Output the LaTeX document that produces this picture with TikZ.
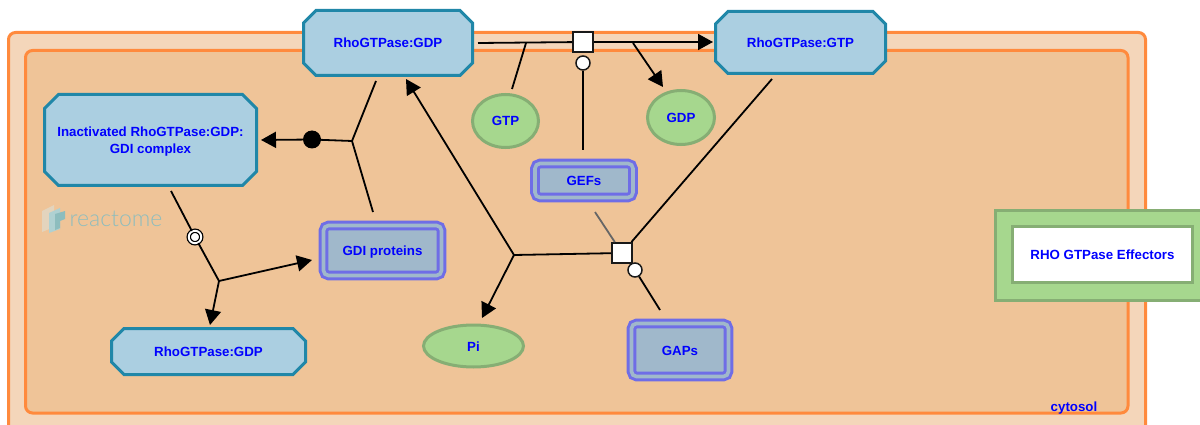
\documentclass[tikz,border=0pt]{standalone}
\usepackage{fontspec}
\setmainfont{Liberation Sans}
\newfontfamily\logofont{Lato Light}
\usepackage{tikz}
\usetikzlibrary{arrows.meta,shapes.geometric,shapes.misc}
\definecolor{cellfill}{HTML}{F4D6BA}
\definecolor{cytofill}{HTML}{EFC498}
\definecolor{orangeline}{HTML}{FF8A3D}
\definecolor{protfill}{HTML}{ABCFE1}
\definecolor{protline}{HTML}{2087A8}
\definecolor{chemfill}{HTML}{A6D78E}
\definecolor{chemline}{HTML}{86AE74}
\definecolor{setfill}{HTML}{A0B8CB}
\definecolor{setline}{HTML}{6F6DE6}
\definecolor{logoteal}{HTML}{8DBDBE}

\begin{document}
\begin{tikzpicture}[x=1pt,y=-1pt]
    \tikzstyle{label}=[text=blue,font=\bfseries\fontsize{13.3}{17}\selectfont,align=center]
    \tikzstyle{oneline}=[text height=11pt,text depth=1pt]
    \tikzstyle{complex}=[label,chamfered rectangle,chamfered rectangle xsep=#1,chamfered rectangle ysep=#1,draw=protline,fill=protfill,line width=3pt,inner sep=0pt]
    \tikzstyle{chem}=[label,oneline,ellipse,draw=chemline,fill=chemfill,line width=3pt,inner sep=0pt]
    \tikzstyle{entityset}=[label,oneline,rectangle,rounded corners=5pt,draw=setline,fill=setfill,double=setfill,double distance=3.6pt,line width=3pt,inner sep=0pt]
    \tikzstyle{edge}=[black,line width=1.8pt]
    \tikzstyle{arrow}=[edge,-{Triangle[length=15pt,width=16pt]}]
    \tikzstyle{square}=[rectangle,draw=black!90,fill=white,line width=2pt,minimum size=20pt,inner sep=0pt]
    \tikzstyle{catalyst}=[circle,draw=black!90,fill=white,line width=1.5pt,minimum size=14pt,inner sep=0pt]

    \clip (0,0) rectangle (1200,425);
    \fill[white] (0,0) rectangle (1200,425);
    \draw[orangeline,fill=cellfill,line width=3pt,rounded corners=7pt] (8.5,32.5) rectangle (1145.5,450);
    \draw[orangeline,fill=cytofill,line width=3pt,rounded corners=7pt] (25.5,50.5) rectangle (1128,413);
    \node (cytosol)[label,anchor=center] at (1074,408) {cytosol};

    \fill[logoteal!25!cytofill!70!white] (42,211) -- (54,205) -- (54,227) -- (42,232) -- cycle;
    \fill[logoteal!70!white] (49,213) -- (60,208) -- (60,229) -- (49,233) -- cycle;
    \fill[logoteal] (55,214) -- (65,211) -- (65,219) -- (60,221) -- (60,228) -- (55,230) -- cycle;
    \node (logo)[text=logoteal,font=\logofont\fontsize{23}{23}\selectfont,anchor=center] at (116,219) {reactome};

    \node (gdpTop)[complex=6.5pt,oneline,minimum width=169pt,minimum height=65pt] at (388,43) {RhoGTPase:GDP};
    \node (gtpTop)[complex=6.5pt,oneline,minimum width=170pt,minimum height=62pt] at (800.5,42.5) {RhoGTPase:GTP};
    \node (inact)[complex=7pt,minimum width=212pt,minimum height=91pt] at (150.5,140) {\rule{0pt}{13pt}Inactivated RhoGTPase:GDP:\\GDI complex};
    \node (gdpBottom)[complex=6.5pt,oneline,minimum width=194pt,minimum height=46pt] at (208.5,351.5) {RhoGTPase:GDP};

    \node (gtp)[chem,minimum width=66pt,minimum height=53pt] at (505.5,121) {GTP};
    \node (gdp)[chem,minimum width=67pt,minimum height=54pt] at (681,117.5) {GDP};
    \node (pi)[chem,minimum width=100pt,minimum height=42pt] at (473.5,346) {Pi};

    \node (gefs)[entityset,minimum width=98pt,minimum height=34pt] at (584,180.5) {GEFs};
    \node (gdiProt)[entityset,minimum width=118pt,minimum height=50pt] at (382.5,250.5) {GDI proteins};
    \node (gaps)[entityset,minimum width=97pt,minimum height=53pt] at (680,350) {GAPs};

    \node (effBox)[rectangle,draw=chemline,fill=chemfill,line width=3pt,minimum width=217pt,minimum height=90pt,inner sep=0pt] at (1104,255) {};
    \node (effectors)[label,oneline,rectangle,draw=chemline,fill=white,line width=3pt,minimum width=180pt,minimum height=56pt,inner sep=0pt] at (1102.5,254.5) {RHO GTPase Effectors};

    \coordinate (topStart) at (478,43);
    \coordinate (topEnd) at (713,42);
    \coordinate (gtpIn) at (512,89);
    \coordinate (gtpJoin) at (526,43);
    \coordinate (gdpOut) at (633,43);
    \coordinate (gdpTip) at (663,87);
    \coordinate (gefsEnd) at (583,150);
    \coordinate (bindA) at (376,81);
    \coordinate (bindB) at (373,212);
    \coordinate (bindJoin) at (352,141);
    \coordinate (bindTip) at (261,140);
    \coordinate (splitStart) at (171,191);
    \coordinate (splitJoin) at (219,281);
    \coordinate (splitA) at (312,260);
    \coordinate (splitB) at (210,325);
    \coordinate (gapJoin) at (514,255);
    \coordinate (gapTipA) at (406,79);
    \coordinate (gapTipB) at (482,318);
    \coordinate (gtpLine) at (772,79);
    \coordinate (greyEnd) at (595,212);
    \coordinate (gapsEnd) at (660,310);

    \node (sqTop)[square] at (583,42) {};
    \node (catTop)[catalyst] at (583,63) {};
    \node (sqBottom)[square] at (622,253) {};
    \node (catBottom)[catalyst] at (635,270) {};
    \node (dot)[circle,fill=black,minimum size=18pt,inner sep=0pt] at (312,139.5) {};
    \node (ring)[circle,draw=black,fill=white,double=white,double distance=1.9pt,line width=1.3pt,minimum size=12.5pt,inner sep=0pt] at (195,237) {};

    \draw[edge] (topStart) -- (sqTop);
    \draw[arrow] (sqTop) -- (topEnd);
    \draw[edge] (gtpIn) -- (gtpJoin);
    \draw[arrow] (gdpOut) -- (gdpTip);
    \draw[edge] (gefsEnd) -- (catTop);

    \draw[edge] (bindA) -- (bindJoin);
    \draw[edge] (bindB) -- (bindJoin);
    \draw[edge] (bindJoin) -- (dot);
    \draw[arrow] (dot) -- (bindTip);

    \draw[edge] (splitStart) -- (ring);
    \draw[edge] (ring) -- (splitJoin);
    \draw[arrow] (splitJoin) -- (splitA);
    \draw[arrow] (splitJoin) -- (splitB);

    \draw[edge] (sqBottom) -- (gapJoin);
    \draw[arrow] (gapJoin) -- (gapTipA);
    \draw[arrow] (gapJoin) -- (gapTipB);
    \draw[edge] (gtpLine) -- (sqBottom);
    \draw[black!60,line width=1.8pt] (greyEnd) -- (sqBottom);
    \draw[edge] (gapsEnd) -- (catBottom);
\end{tikzpicture}
\end{document}
